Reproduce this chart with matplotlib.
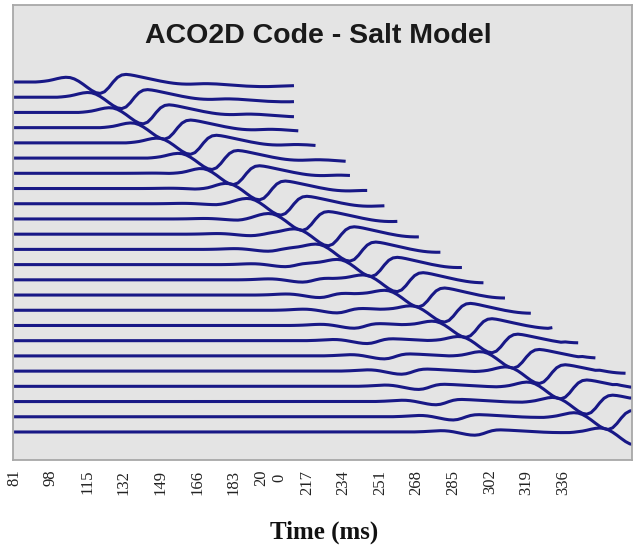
import matplotlib.pyplot as plt
import numpy as np

# trace sampling (ms)
t0 = 81
dt = 2

# x axis labels (every 17 ms); the 200 label wraps onto two lines
time_ticks = [81, 98, 115, 132, 149, 166, 183, 200, 217, 234, 251, 268, 285, 302, 319, 336]
tick_labels = ['81', '98', '115', '132', '149', '166', '183', '20\n0', '217', '234',
               '251', '268', '285', '302', '319', '336']

# time of the main trough on each receiver, top to bottom (ms)
arrival_ms = [121, 131, 141, 151, 163, 173, 183, 195, 205, 215, 227, 237,
              247, 259, 269, 281, 291, 303, 313, 325, 335, 347, 357, 369]

# last recorded sample of each trace (ms)
trace_end_ms = [211, 211, 211, 213, 222, 236, 237, 246, 254, 259, 270, 280,
                289, 300, 310, 321, 331, 343, 351, 365, 369, 369, 369, 369]

# weak early arrival on the far receivers: trough time (ms) and relative size
head_ms = [113, 121, 129, 137, 145, 153, 161, 169, 175, 185, 191, 199,
           207, 215, 223, 231, 239, 245, 253, 261, 269, 277, 285, 295]
head_amp = [0, 0, 0, 0, 0, 0, 0.04, 0.06, 0.08, 0.10, 0.13, 0.16,
            0.18, 0.20, 0.22, 0.23, 0.24, 0.25, 0.26, 0.27, 0.27, 0.28, 0.28, 0.28]

# source wavelet, sampled every 2 ms relative to its trough (in trace spacings)
wavelet_t = list(range(-30, 92, 2))
wavelet_amp = [0.00, 0.02, 0.05, 0.09, 0.15, 0.22, 0.28, 0.31, 0.29, 0.20,
               0.05, -0.14, -0.35, -0.55, -0.70,
               -0.75, -0.64, -0.36, 0.00, 0.30, 0.46, 0.50,
               0.47, 0.42, 0.36, 0.30, 0.24, 0.18, 0.12, 0.06, 0.01, -0.04,
               -0.08, -0.11, -0.13, -0.14, -0.14, -0.13, -0.12, -0.11, -0.11, -0.12,
               -0.13, -0.15, -0.17, -0.19, -0.21, -0.23, -0.25, -0.27, -0.28, -0.29,
               -0.30, -0.30, -0.30, -0.29, -0.28, -0.27, -0.26, -0.25, -0.24]


def build_trace(k):
    t = np.arange(t0, trace_end_ms[k] + 1, dt)
    y = np.zeros(len(t))
    for onset, scale in ((arrival_ms[k], 1.0), (head_ms[k], head_amp[k])):
        for wt, wa in zip(wavelet_t, wavelet_amp):
            i = (onset + wt - t0) // dt
            if 0 <= i < len(t):
                y[i] += scale * wa
    return t, y


W, H = 635, 551
fig = plt.figure(figsize=(W / 100, H / 100), dpi=100)
ax = fig.add_axes([13 / W, (H - 460) / H, (632 - 13) / W, (460 - 5) / H])
ax.set_facecolor('#e4e4e4')

for k in range(len(arrival_ms)):
    t, y = build_trace(k)
    ax.plot(t, y - k, color='#181886', lw=2.2, solid_capstyle='butt')

ax.set_xlim(80.5, 368)
ax.set_ylim(-24.84, 5.06)
ax.set_yticks([])
ax.set_xticks(time_ticks)
ax.set_xticklabels(tick_labels, rotation=90, fontfamily='Liberation Serif',
                   fontsize=12, color='#222222')
for lab in ax.get_xticklabels():
    lab.set_multialignment('center')
ax.tick_params(axis='x', length=0, pad=7)
for s in ax.spines.values():
    s.set_color('#a8a8a8')
    s.set_linewidth(1.3)

fig.text(318 / W, 1 - 43 / H, 'ACO2D Code - Salt Model', ha='center', va='baseline',
         fontfamily='Liberation Sans', fontweight='bold', fontsize=20.5, color='#1a1a1a')
fig.text(324 / W, 1 - 539 / H, 'Time (ms)', ha='center', va='baseline',
         fontfamily='Liberation Serif', fontweight='bold', fontsize=18, color='#111111')

fig.savefig('out.png', dpi=100)
